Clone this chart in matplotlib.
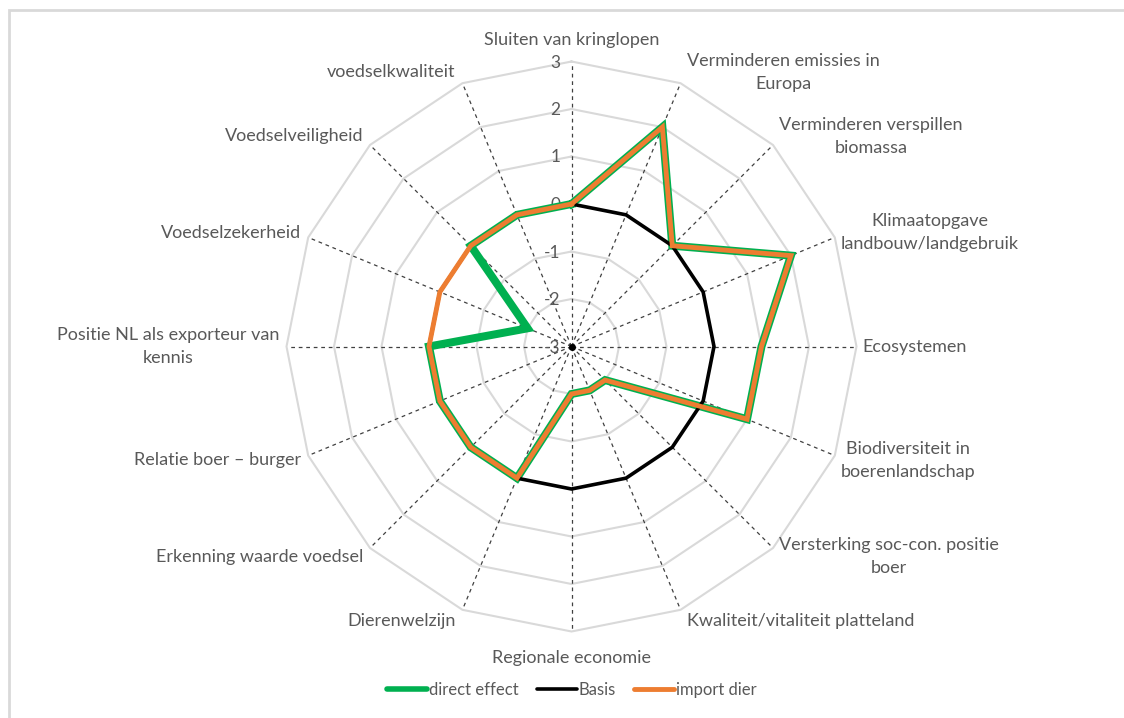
import numpy as np
import matplotlib.pyplot as plt
from matplotlib.lines import Line2D
from matplotlib.patches import Rectangle

plt.rcParams['font.family'] = ['Lato', 'DejaVu Sans']

categories = [
    "Sluiten van kringlopen",
    "Verminderen emissies in\nEuropa",
    "Verminderen verspillen\nbiomassa",
    "Klimaatopgave\nlandbouw/landgebruik",
    "Ecosystemen",
    "Biodiversiteit in\nboerenlandschap",
    "Versterking soc-con. positie\nboer",
    "Kwaliteit/vitaliteit platteland",
    "Regionale economie",
    "Dierenwelzijn",
    "Erkenning waarde voedsel",
    "Relatie boer \u2013 burger",
    "Positie NL als exporteur van\nkennis",
    "Voedselzekerheid",
    "Voedselveiligheid",
    "voedselkwaliteit",
]
direct_effect = [0, 2, 0, 2, 1, 1, -2, -2, -2, 0, 0, 0, 0, -2, 0, 0]
basis = [0, 0, 0, 0, 0, 0, 0, 0, 0, 0, 0, 0, 0, 0, 0, 0]
import_dier = [0, 2, 0, 2, 1, 1, -2, -2, -2, 0, 0, 0, 0, 0, 0, 0]
ticks = [-3, -2, -1, 0, 1, 2, 3]

W, H, DPI = 1124, 718, 100
CX, CY, UNIT = 571.5, 346.5, 47.5   # centrum in px (vanaf linksboven), px per stap
TXT = '#595959'
PT = 72 / DPI   # px -> points

fig = plt.figure(figsize=(W / DPI, H / DPI), dpi=DPI)
ax = fig.add_axes([0, 0, 1, 1])
ax.set_xlim(-CX / UNIT, (W - CX) / UNIT)
ax.set_ylim(-(H - CY) / UNIT, CY / UNIT)
ax.axis('off')

# kader rond het diagram (alleen links/boven zichtbaar)
fig.patches.append(Rectangle((9 / W, -0.1), 1.2, 1.1 - 10 / H,
                             transform=fig.transFigure, fill=False,
                             edgecolor='#d9d9d9', linewidth=2))

n = len(categories)
theta = np.arange(n) * 2 * np.pi / n
rmin = ticks[0]


def to_xy(vals):
    r = np.asarray(vals, dtype=float) - rmin
    x = r * np.sin(theta)
    y = r * np.cos(theta)
    return np.append(x, x[0]), np.append(y, y[0])


# rasterveelhoeken
for t in ticks[1:]:
    gx, gy = to_xy([t] * n)
    ax.plot(gx, gy, color='#d9d9d9', linewidth=1.5, zorder=1)

# spaken
rmax = ticks[-1] - rmin
for a in theta:
    ax.plot([0, rmax * np.sin(a)], [0, rmax * np.cos(a)], color='#404040',
            linewidth=0.9, linestyle=(0, (3, 3)), zorder=2)
ax.plot([0], [0], 'o', color='black', markersize=4, zorder=2)

# as-labels langs de bovenste spaak
for t in ticks:
    ax.annotate(str(t), xy=(0, t - rmin), xytext=(-11 * PT, -1 * PT),
                textcoords='offset points', ha='right', va='center',
                fontsize=12.5, color=TXT, zorder=2)

# reeksen
series = [
    ("direct effect", direct_effect, '#00b050', 5.75),
    ("Basis", basis, '#000000', 2.6),
    ("import dier", import_dier, '#ed7d31', 3.5),
]
handles = []
for i, (name, vals, col, lw) in enumerate(series):
    sx, sy = to_xy(vals)
    ax.plot(sx, sy, color=col, linewidth=lw, solid_joinstyle='miter',
            zorder=3 + i)
    handles.append(Line2D([], [], color=col, linewidth=min(lw, 4),
                          solid_capstyle='round', label=name))

# categorie-labels
for a, lab in zip(theta, categories):
    ex, ey = rmax * np.sin(a), rmax * np.cos(a)
    s, c = np.sin(a), np.cos(a)
    if abs(s) < 1e-6:
        va = 'bottom' if c > 0 else 'top'
        off = (0, 13 if c > 0 else -19)
        ha = 'center'
    else:
        va = 'center'
        ha = 'left' if s > 0 else 'right'
        off = (6 if s > 0 else -7, 12 * c)
    ax.annotate(lab, xy=(ex, ey), xytext=(off[0] * PT, off[1] * PT),
                textcoords='offset points', ha=ha, va=va,
                multialignment='center', fontsize=13, color=TXT,
                linespacing=1.55)

fig.legend(handles=handles, loc='center',
           bbox_to_anchor=(572 / W, 1 - 690 / H), ncol=3, frameon=False,
           fontsize=12, handlelength=2.4, handletextpad=0.1,
           columnspacing=1.1, labelcolor=TXT)

fig.savefig('out.png', dpi=DPI, facecolor='white')
